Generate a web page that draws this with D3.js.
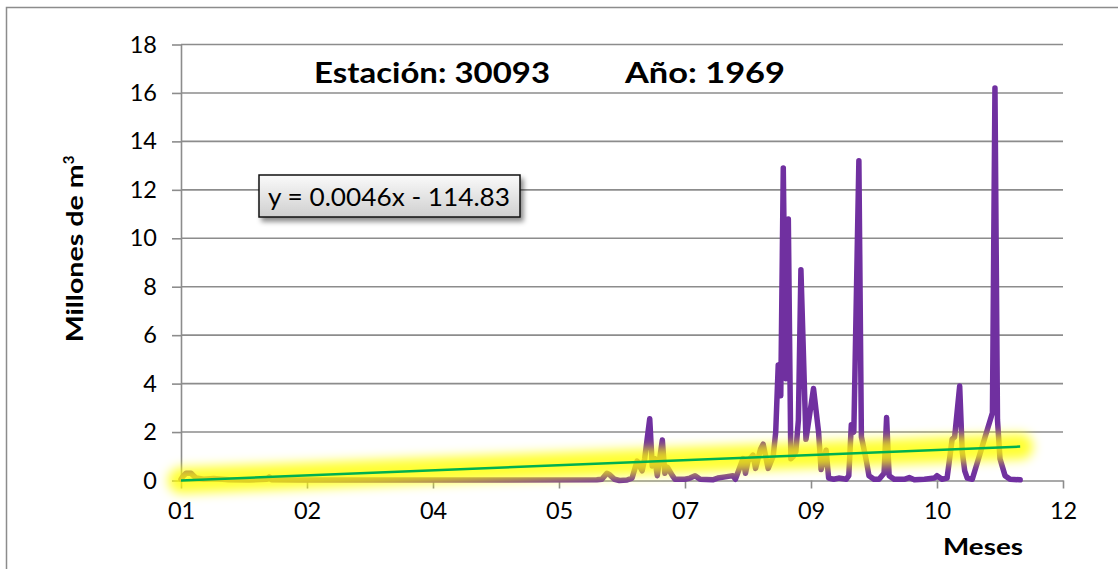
<!DOCTYPE html>
<html>
<head>
<meta charset="utf-8">
<script src="https://cdn.jsdelivr.net/npm/d3@7"></script>
<style>
  html, body { margin: 0; padding: 0; background: #fff; }
  svg { display: block; }
  text { font-family: Lato, "Open Sans", sans-serif; fill: #000; }
</style>
</head>
<body>
<svg id="chart" width="1118" height="569"></svg>
<script>
// ---- data (day offsets from 1969-01-01, flow in millions of m3) ----
const dayOffsets = [
  0, 1, 2, 4, 5, 6, 9, 13, 19, 27, 34, 35, 36, 47, 80, 120, 165,
  167, 169, 170, 172, 174, 177, 179, 181, 183, 184, 186, 187, 188, 189,
  191, 192, 193, 195, 196, 200, 202, 204, 206, 211, 213, 216, 219, 220,
  223, 224, 225, 227, 228, 230, 231, 233, 235, 236, 237, 238, 239, 240,
  241, 242, 243, 244, 245, 246, 248, 251, 253, 254, 256, 257, 259, 261,
  264, 265, 266, 267, 269, 270, 272, 273, 275, 277, 279, 280, 281, 283,
  287, 289, 291, 295, 299, 300, 302, 304, 306, 307, 309, 310, 311, 312,
  314, 322, 323, 324, 325, 327, 329, 333
];
const flowValues = [
  0.05, 0.2, 0.3, 0.3, 0.2, 0.1, 0.05, 0.08, 0.03, 0.02, 0.05, 0.15, 0.03, 0.02, 0.02, 0.02, 0.03,
  0.05, 0.3, 0.25, 0.05, 0.0, 0.02, 0.1, 0.8, 0.4, 0.9, 2.55, 0.6, 0.9, 0.2,
  1.67, 0.3, 0.55, 0.2, 0.05, 0.05, 0.1, 0.2, 0.05, 0.03, 0.1, 0.15, 0.2, 0.05,
  0.9, 0.3, 0.8, 1.05, 0.5, 1.3, 1.5, 0.5, 1.0, 2.0, 4.77, 3.5, 12.9, 4.2,
  10.8, 0.9, 1.0, 1.2, 2.5, 8.7, 1.7, 3.8, 2.0, 0.45, 1.25, 0.1, 0.05, 0.1,
  0.05, 0.2, 2.3, 2.0, 13.2, 1.8, 0.8, 0.2, 0.05, 0.05, 0.3, 2.6, 0.2, 0.05,
  0.05, 0.12, 0.03, 0.05, 0.1, 0.2, 0.05, 0.1, 1.7, 1.8, 3.9, 1.2, 0.4, 0.1,
  0.05, 2.8, 16.2, 2.5, 0.9, 0.2, 0.05, 0.03
];
const trendDays = [0, 333];
const trendValues = [0.0, 1.40];
const yTickValues = [0, 2, 4, 6, 8, 10, 12, 14, 16, 18];
const xTickDays = [0, 50, 100, 150, 200, 250, 300, 350];
const titleStation = "Estación: 30093";
const titleYear = "Año: 1969";
const equationText = "y = 0.0046x - 114.83";
const yAxisTitle = "Millones de m";
const xAxisTitle = "Meses";

// ---- layout ----
const startDate = new Date(1969, 0, 1);
const day = d => d3.timeDay.offset(startDate, d);
const plot = { left: 181, right: 1063, top: 44.5, bottom: 480.5 };

const svg = d3.select("#chart");
const defs = svg.append("defs");

const x = d3.scaleTime()
  .domain([startDate, day(350)])
  .range([plot.left, plot.right]);
const y = d3.scaleLinear()
  .domain([0, 18])
  .range([plot.bottom, plot.top]);

// outer frame
svg.append("rect")
  .attr("x", 6.5).attr("y", 7.5)
  .attr("width", 1140).attr("height", 600)
  .attr("fill", "none").attr("stroke", "#8c8c8c").attr("stroke-width", 1.5);

// gridlines
svg.append("g").selectAll("line")
  .data(yTickValues.filter(v => v > 0))
  .join("line")
  .attr("x1", plot.left).attr("x2", plot.right)
  .attr("y1", d => y(d)).attr("y2", d => y(d))
  .attr("stroke", "#8c8c8c").attr("stroke-width", 1.6);

// y axis
const yAxis = svg.append("g")
  .attr("transform", `translate(${plot.left},0)`)
  .call(d3.axisLeft(y).tickValues(yTickValues).tickSize(9).tickSizeOuter(0).tickPadding(15));
yAxis.select(".domain").attr("stroke", "#8c8c8c").attr("stroke-width", 1.6);
yAxis.selectAll(".tick line").attr("stroke", "#8c8c8c").attr("stroke-width", 1.6);
yAxis.selectAll(".tick text").style("font-size", "23.5px").style("font-family", "Lato, sans-serif");

// x axis
const xAxis = svg.append("g")
  .attr("transform", `translate(0,${plot.bottom})`)
  .call(d3.axisBottom(x).tickValues(xTickDays.map(day)).tickSize(8).tickSizeOuter(0)
        .tickPadding(14).tickFormat(d3.timeFormat("%m")));
xAxis.select(".domain").attr("stroke", "#8c8c8c").attr("stroke-width", 1.6);
xAxis.selectAll(".tick line").attr("stroke", "#8c8c8c").attr("stroke-width", 1.6);
xAxis.selectAll(".tick text").style("font-size", "23.5px").style("font-family", "Lato, sans-serif");

// data line
const series = dayOffsets.map((d, i) => ({ date: day(d), v: flowValues[i] }));
const line = d3.line().x(d => x(d.date)).y(d => y(d.v));
svg.append("path")
  .datum(series)
  .attr("d", line)
  .attr("fill", "none")
  .attr("stroke", "#7030A0")
  .attr("stroke-width", 5.5)
  .attr("stroke-linejoin", "round")
  .attr("stroke-linecap", "round");

// trendline with glow
const trend = trendDays.map((d, i) => ({ date: day(d), v: trendValues[i] }));
const glow = defs.append("filter").attr("id", "glow")
  .attr("x", "-10%").attr("y", "-400%").attr("width", "120%").attr("height", "900%");
glow.append("feGaussianBlur").attr("stdDeviation", 5.5);
svg.append("path")
  .datum(trend)
  .attr("d", line)
  .attr("fill", "none")
  .attr("stroke", "#ffff00")
  .attr("stroke-opacity", 0.8)
  .attr("stroke-width", 26)
  .attr("stroke-linecap", "round")
  .attr("filter", "url(#glow)");
svg.append("path")
  .datum(trend)
  .attr("d", line)
  .attr("fill", "none")
  .attr("stroke", "#00B050")
  .attr("stroke-width", 2.5);

// title
svg.append("text")
  .attr("x", 314).attr("y", 83)
  .attr("textLength", 236).attr("lengthAdjust", "spacingAndGlyphs")
  .style("font-size", "28px").style("font-weight", "bold")
  .text(titleStation);
svg.append("text")
  .attr("x", 625).attr("y", 83)
  .attr("textLength", 160).attr("lengthAdjust", "spacingAndGlyphs")
  .style("font-size", "28px").style("font-weight", "bold")
  .text(titleYear);

// equation label
const grad = defs.append("linearGradient").attr("id", "boxGrad")
  .attr("x1", 0).attr("y1", 0).attr("x2", 0).attr("y2", 1);
grad.append("stop").attr("offset", "0%").attr("stop-color", "#fafafa");
grad.append("stop").attr("offset", "100%").attr("stop-color", "#cfcfcf");
const shadow = defs.append("filter").attr("id", "shadow")
  .attr("x", "-10%").attr("y", "-30%").attr("width", "130%").attr("height", "180%");
shadow.append("feDropShadow").attr("dx", 3).attr("dy", 4).attr("stdDeviation", 2.5)
  .attr("flood-color", "#000").attr("flood-opacity", 0.45);
svg.append("rect")
  .attr("x", 259).attr("y", 175).attr("width", 261).attr("height", 42)
  .attr("fill", "url(#boxGrad)").attr("stroke", "#111").attr("stroke-width", 1.5)
  .attr("filter", "url(#shadow)");
svg.append("text")
  .attr("x", 268).attr("y", 206)
  .attr("textLength", 242).attr("lengthAdjust", "spacingAndGlyphs")
  .style("font-size", "25px")
  .text(equationText);

// axis titles
const yt = svg.append("text")
  .attr("transform", "translate(83,249) rotate(-90)")
  .attr("text-anchor", "middle")
  .style("font-size", "23px").style("font-weight", "bold");
yt.append("tspan").attr("textLength", 178).attr("lengthAdjust", "spacingAndGlyphs").text(yAxisTitle);
yt.append("tspan").attr("dy", -9).style("font-size", "15px").text("3");

svg.append("text")
  .attr("x", 943).attr("y", 555)
  .attr("textLength", 80).attr("lengthAdjust", "spacingAndGlyphs")
  .style("font-size", "23px").style("font-weight", "bold")
  .text(xAxisTitle);
</script>
</body>
</html>
